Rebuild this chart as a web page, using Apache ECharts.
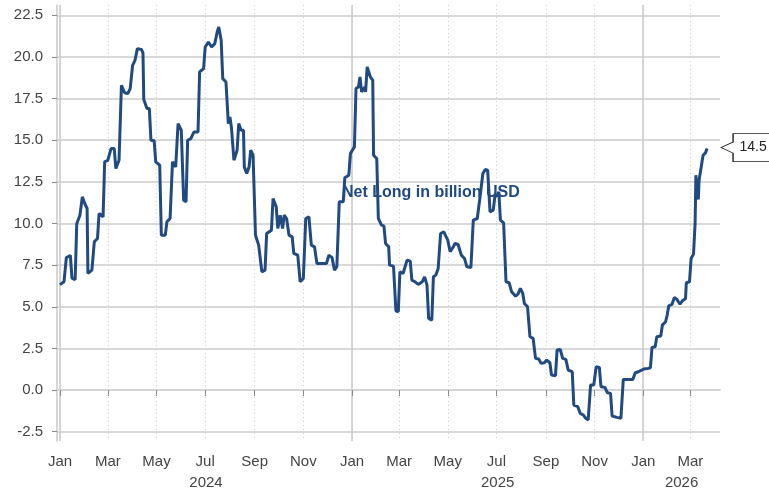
<!DOCTYPE html>
<html>
<head>
<meta charset="utf-8">
<script src="https://cdn.jsdelivr.net/npm/echarts@6/dist/echarts.min.js"></script>
<style>html,body{margin:0;padding:0;background:#fff}#c{width:769px;height:490px}</style>
</head>
<body>
<div id="c"></div>
<script>
const dates = [
'2024-01-01','2024-01-06','2024-01-09','2024-01-14','2024-01-16','2024-01-20','2024-01-22','2024-01-26','2024-01-29','2024-02-01',
'2024-02-04','2024-02-05','2024-02-10','2024-02-13','2024-02-17','2024-02-19','2024-02-24','2024-02-26','2024-03-01','2024-03-05',
'2024-03-09','2024-03-11','2024-03-15','2024-03-18','2024-03-22','2024-03-26','2024-03-29','2024-04-01','2024-04-04','2024-04-07',
'2024-04-12','2024-04-14','2024-04-15','2024-04-19','2024-04-22','2024-04-24','2024-04-28','2024-04-30','2024-05-05','2024-05-07',
'2024-05-12','2024-05-14','2024-05-18','2024-05-21','2024-05-25','2024-05-28','2024-06-01','2024-06-04','2024-06-07','2024-06-09',
'2024-06-13','2024-06-17','2024-06-22','2024-06-24','2024-06-29','2024-07-01','2024-07-05','2024-07-09','2024-07-13','2024-07-16',
'2024-07-18','2024-07-21','2024-07-23','2024-07-27','2024-07-30','2024-08-01','2024-08-03','2024-08-06','2024-08-10','2024-08-12',
'2024-08-15','2024-08-18','2024-08-19','2024-08-22','2024-08-25','2024-08-27','2024-08-30','2024-09-02','2024-09-06','2024-09-10',
'2024-09-14','2024-09-16','2024-09-22','2024-09-24','2024-09-28','2024-09-30','2024-10-03','2024-10-06','2024-10-08','2024-10-11',
'2024-10-14','2024-10-18','2024-10-20','2024-10-25','2024-10-28','2024-11-01','2024-11-04','2024-11-08','2024-11-11','2024-11-15',
'2024-11-18','2024-11-24','2024-11-30','2024-12-03','2024-12-07','2024-12-10','2024-12-13','2024-12-16','2024-12-21','2024-12-23',
'2024-12-28','2024-12-30','2025-01-04','2025-01-06','2025-01-09','2025-01-11','2025-01-13','2025-01-17','2025-01-18','2025-01-20',
'2025-01-24','2025-01-27','2025-01-28','2025-02-01','2025-02-03','2025-02-07','2025-02-10','2025-02-12','2025-02-16','2025-02-17',
'2025-02-22','2025-02-25','2025-02-28','2025-03-02','2025-03-06','2025-03-11','2025-03-15','2025-03-17','2025-03-21','2025-03-25',
'2025-03-30','2025-04-02','2025-04-05','2025-04-07','2025-04-11','2025-04-13','2025-04-16','2025-04-19','2025-04-22','2025-04-26',
'2025-04-29','2025-05-01','2025-05-04','2025-05-08','2025-05-10','2025-05-14','2025-05-18','2025-05-22','2025-05-25','2025-05-30',
'2025-06-02','2025-06-07','2025-06-11','2025-06-14','2025-06-17','2025-06-20','2025-06-23','2025-06-27','2025-06-29','2025-07-02',
'2025-07-04','2025-07-06','2025-07-10','2025-07-13','2025-07-17','2025-07-20','2025-07-25','2025-07-28','2025-07-31','2025-08-03',
'2025-08-05','2025-08-09','2025-08-12','2025-08-16','2025-08-19','2025-08-23','2025-08-26','2025-08-30','2025-09-02','2025-09-06',
'2025-09-08','2025-09-13','2025-09-15','2025-09-19','2025-09-22','2025-09-26','2025-09-29','2025-10-04','2025-10-06','2025-10-11',
'2025-10-14','2025-10-18','2025-10-21','2025-10-24','2025-10-27','2025-10-31','2025-11-03','2025-11-07','2025-11-09','2025-11-14',
'2025-11-17','2025-11-21','2025-11-23','2025-11-29','2025-12-04','2025-12-07','2025-12-13','2025-12-19','2025-12-22','2025-12-26',
'2025-12-30','2026-01-03','2026-01-07','2026-01-10','2026-01-12','2026-01-16','2026-01-18','2026-01-23','2026-01-25','2026-01-29',
'2026-01-31','2026-02-02','2026-02-06','2026-02-09','2026-02-12','2026-02-14','2026-02-16','2026-02-19','2026-02-23','2026-02-24',
'2026-02-28','2026-03-02','2026-03-05','2026-03-07','2026-03-08','2026-03-10','2026-03-11','2026-03-12','2026-03-15','2026-03-17',
'2026-03-20','2026-03-22'
];
const netLong = [
6.33,6.5,7.96,8.08,6.72,6.62,9.98,10.5,11.6,11.2,
10.9,7.0,7.2,8.9,9.1,10.6,10.4,13.7,13.8,14.5,
14.5,13.3,13.8,18.3,17.85,17.8,18.1,19.5,19.8,20.5,
20.45,20.25,17.45,16.9,16.9,15.0,14.97,13.7,13.5,9.3,
9.3,10.1,10.3,13.7,13.4,16.0,15.6,11.4,11.3,15.0,
15.1,15.5,15.5,19.1,19.3,20.6,20.9,20.6,20.8,21.5,
21.8,21.0,18.7,18.5,16.0,16.4,15.7,13.8,14.4,16.0,
15.6,15.6,13.4,13.0,13.4,14.4,14.1,9.3,8.7,7.1,
7.2,9.4,9.6,11.5,11.0,9.7,10.5,9.7,10.5,10.3,
9.3,9.2,8.2,8.1,6.5,6.7,10.3,10.4,8.7,8.6,
7.6,7.6,7.6,8.1,7.95,7.2,7.4,11.3,11.3,12.75,
12.9,14.2,14.6,18.1,18.2,18.8,17.9,18.2,17.9,19.4,
18.8,18.6,14.1,13.9,10.3,9.9,9.86,8.8,8.6,7.5,
7.44,4.76,4.7,7.1,7.0,7.8,7.74,6.6,6.5,6.34,
6.5,6.8,6.3,4.3,4.2,6.8,6.9,7.3,9.4,9.5,
9.2,9.0,8.3,8.6,8.8,8.74,8.1,7.9,7.4,7.36,
10.2,10.3,11.8,13.0,13.24,13.2,10.7,10.8,11.6,11.7,
11.9,10.2,10.04,6.5,6.44,5.9,5.64,5.76,6.1,5.8,
5.2,5.0,3.2,3.1,1.9,1.86,1.6,1.64,1.8,1.64,
0.9,0.86,2.4,2.44,1.9,1.84,1.2,1.1,-0.9,-1.0,
-1.4,-1.5,-1.7,-1.8,0.3,0.3,1.4,1.36,0.2,0.16,
-0.16,-0.2,-1.56,-1.64,-1.7,0.64,0.64,0.64,1.04,1.1,
1.2,1.28,1.3,1.34,2.56,2.6,3.2,3.24,3.9,4.1,
4.5,5.06,5.14,5.56,5.46,5.3,5.16,5.36,5.48,6.44,
6.5,7.9,8.16,10.0,12.9,12.84,11.44,12.6,13.5,14.1,
14.24,14.5
];
const yTicks = [-2.5, 0, 2.5, 5, 7.5, 10, 12.5, 15, 17.5, 20, 22.5];
const monthNames = ['Jan','Feb','Mar','Apr','May','Jun','Jul','Aug','Sep','Oct','Nov','Dec'];
const seriesLabel = 'Net Long in billion USD';

const ts = (y, m, d, h) => new Date(y, m, d, h || 0).getTime();
const parseDate = s => { const p = s.split('-').map(Number); return ts(p[0], p[1] - 1, p[2]); };
const xMin = ts(2023, 11, 28, 6);
const xMax = ts(2026, 3, 7, 5);
const monthTicks = [];
for (let y = 2024; y <= 2026; y++) {
  for (let m = 0; m < 12; m += 2) {
    const t = ts(y, m, 1);
    if (t >= xMin && t <= xMax) monthTicks.push(t);
  }
}
const yearStarts = [ts(2024,0,1), ts(2025,0,1), ts(2026,0,1)];
const yearMids = [2024, 2025, 2026].map(y => {
  const a = Math.max(ts(y,0,1), xMin), b = Math.min(ts(y+1,0,1), xMax);
  return (a + b) / 2;
});

const data = dates.map((d, i) => [parseDate(d), netLong[i]]);
const last = data[data.length - 1];

const font = 'Liberation Sans, Arial, sans-serif';
const chart = echarts.init(document.getElementById('c'), null, {renderer: 'canvas'});
chart.setOption({
  animation: false,
  backgroundColor: '#ffffff',
  title: {
    text: seriesLabel,
    left: 337, top: 180, z: 1,
    textStyle: {color: '#1f4a80', fontSize: 16, fontWeight: 'bold', fontFamily: font}
  },
  grid: {left: 57, right: 49, top: 5, bottom: 49, containLabel: false},
  xAxis: [
    {
      type: 'value', min: xMin, max: xMax,
      axisLine: {show: true, lineStyle: {color: '#d4d4d4', width: 2}},
      axisTick: {show: true, length: 6, customValues: monthTicks, lineStyle: {color: '#888'}},
      axisLabel: {
        customValues: monthTicks, margin: 13, color: '#444', fontSize: 15, fontFamily: font,
        formatter: v => monthNames[new Date(v).getMonth()]
      },
      splitLine: {show: true, lineStyle: {color: '#cfcfcf', type: [1, 3], width: 1}}
    },
    {
      type: 'value', min: xMin, max: xMax, position: 'bottom', offset: 21,
      axisLine: {show: false}, axisTick: {show: false, customValues: yearMids}, splitLine: {show: false},
      axisLabel: {
        customValues: yearMids, margin: 13, color: '#444', fontSize: 15, fontFamily: font,
        formatter: v => String(new Date(v).getFullYear())
      }
    },
    {
      type: 'value', min: xMin, max: xMax, position: 'bottom',
      axisLine: {show: false},
      axisTick: {show: false, customValues: yearStarts},
      axisLabel: {show: false, customValues: yearStarts},
      splitLine: {show: true, lineStyle: {color: '#c8c8c8', width: 1.5, type: 'solid'}}
    }
  ],
  yAxis: {
    type: 'value', min: -3.06, max: 23.12,
    axisLine: {show: true, lineStyle: {color: '#c8c8c8', width: 1.5}},
    axisTick: {show: true, length: 5, customValues: yTicks, lineStyle: {color: '#888'}},
    axisLabel: {customValues: yTicks, margin: 14, color: '#444', fontSize: 15, fontFamily: font,
      formatter: v => v.toFixed(1)},
    splitLine: {show: true, lineStyle: {color: '#cccccc', width: 1.5}}
  },
  series: [{
    type: 'line', name: seriesLabel, data: data, xAxisIndex: 0,
    showSymbol: false, symbol: 'none', z: 3,
    lineStyle: {color: '#204a80', width: 3},
    markPoint: {
      symbol: 'path://M0,14L12,8.5L12,0L56,0L56,28L12,28L12,19.5Z',
      symbolSize: [56, 28], symbolOffset: [42, -1],
      itemStyle: {color: '#ffffff', borderColor: '#222', borderWidth: 1},
      label: {show: true, position: 'inside', offset: [4, 0], color: '#222', fontSize: 14, fontFamily: font,
        formatter: p => p.value.toFixed(1)},
      data: [{coord: last, value: last[1]}]
    }
  }]
});
</script>
</body>
</html>
